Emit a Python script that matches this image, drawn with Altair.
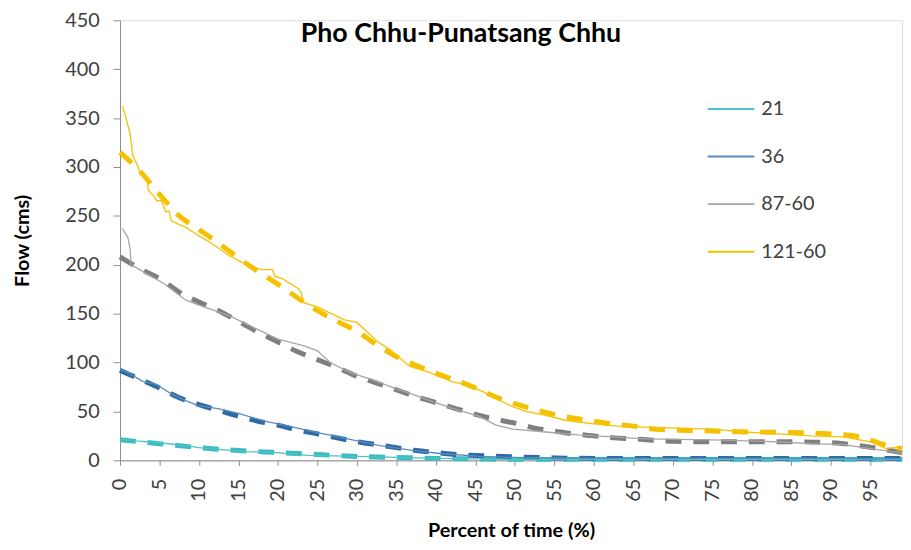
import altair as alt
import pandas as pd

series_names = ["21", "36", "87-60", "121-60"]
line_colors = ["#4cc3c9", "#5a8cbc", "#a6a6a6", "#f5c200"]
fit_colors = ["#3cbcc0", "#2f6aa6", "#7f7f7f", "#f4c000"]

x_ticks = list(range(0, 100, 5))
y_ticks = list(range(0, 451, 50))

# observed flow-duration curves (thin solid lines)
pct_21 = [0, 2, 5, 8.3, 10, 15.8, 20, 23.7, 30, 35, 40, 45, 50, 60, 70, 80, 90, 99]
flow_21 = [22, 20, 18, 15, 13, 9, 8, 5, 4, 3, 2, 1.5, 1, 1, 1, 1, 1, 1]

pct_36 = [0, 1, 2.8, 4.5, 6.5, 8.3, 9.9, 12.4, 15, 18.3, 20.8, 24.6, 28.8, 32.9, 37.2, 40.5,
          45.5, 49.7, 55, 60, 70, 80, 90, 95, 99]
flow_36 = [93, 90, 81, 78, 68, 61, 56, 53, 48, 40, 36, 29, 22, 15, 10, 7,
           4, 3, 2.5, 2, 2, 2, 2, 1.5, 1.5]

pct_87 = [0.3, 1.0, 1.3, 1.4, 2.5, 4, 5.7, 8.3, 9.9, 12, 14.1, 16.6, 20, 23.3, 25, 26.6, 29.1,
          31.7, 35, 37.6, 39.2, 42.2, 43.8, 45.5, 47.6, 49.7, 53.9, 58, 62.3, 66.5, 74.9,
          83.2, 87.4, 91.6, 95, 97.8, 99]
flow_87 = [237, 228, 215, 200, 195, 188, 180, 164, 159, 153, 147, 137, 124, 117, 112, 100, 90,
           83, 73, 66, 61, 53, 49, 45, 36, 32, 29, 26, 24, 22, 21,
           19, 17, 16, 12, 9, 8]

pct_121 = [0.3, 0.6, 1.3, 1.6, 2.3, 2.6, 3.4, 3.6, 4.3, 4.7, 5.2, 5.8, 6.2, 6.5, 7.5, 8.4, 9.9,
           11.6, 13.7, 15.3, 17.9, 19.3, 19.6, 20.5, 22.5, 22.9, 23.3, 25, 28.3, 30, 32.5, 34.2,
           36.7, 39.2, 42.2, 43.8, 46, 47.6, 49.7, 51.4, 53.9, 56.4, 60.2, 63, 66.5, 74.9, 79,
           83.2, 87.4, 91.6, 95, 97, 99]
flow_121 = [362, 355, 333, 312, 300, 292, 288, 276, 270, 265, 266, 254, 255, 245, 241, 238, 230,
            222, 210, 203, 195, 195, 188, 186, 176, 172, 161, 157, 144, 141, 122, 113,
            96, 90, 80, 78, 70, 63, 55, 50, 46, 41, 37, 35, 34, 32, 29,
            27, 25, 24, 19, 12, 14]

# fitted trend curves (thick dashed lines)
fit_pct_21 = [0, 5, 10, 15, 20, 25, 30, 35, 40, 45, 50, 60, 70, 80, 90, 99]
fit_flow_21 = [21, 17, 13, 10, 8, 6, 4, 3, 2, 1.5, 1, 1, 1, 1, 1, 1]

fit_pct_36 = [0, 2.5, 5, 7.5, 10, 12.5, 15, 17.5, 20, 22.5, 25, 27.5, 30, 32.5, 35, 37.5, 40,
              42.5, 45, 50, 55, 60, 70, 80, 90, 95, 99]
fit_flow_36 = [92, 83, 74, 64, 57, 51, 45, 40, 36, 31, 27, 23, 19, 16, 13, 10, 8,
               6, 5, 3.5, 2.5, 2, 2, 2, 2, 2, 2]

fit_pct_87 = [0, 2.5, 5, 7.5, 10, 12.5, 15, 17.5, 20, 22.5, 25, 27.5, 30, 32.5, 35, 37.5, 40,
              42.5, 45, 47.5, 50, 52.5, 55, 57.5, 60, 62.5, 65, 67.5, 70, 75, 80, 85, 90,
              93.7, 97.5, 99]
fit_flow_87 = [208, 196, 186, 172, 162, 153, 142, 131, 121, 111, 103, 95, 86, 79, 72, 65, 59,
               53, 47, 42, 38, 33, 30, 27, 25, 23, 22, 20.5, 19.5, 19, 19, 19, 18,
               15, 10, 8]

fit_pct_121 = [0, 2.5, 5, 7.5, 10, 12.5, 15, 17.5, 20, 22.5, 25, 27.5, 30, 32.5, 35, 37.5, 40,
               42.5, 45, 47.5, 50, 52.5, 55, 57.5, 60, 62.5, 65, 67.5, 70, 75, 80, 85, 90,
               93.7, 96, 98, 99]
fit_flow_121 = [315, 296, 272, 250, 236, 222, 207, 193, 180, 166, 153, 142, 132, 118, 106, 97, 89,
                82, 74, 65, 58, 52, 47, 43, 40, 37, 35, 32, 31, 30, 29, 28.5, 27,
                24, 18, 13, 12]

obs = [(pct_21, flow_21), (pct_36, flow_36), (pct_87, flow_87), (pct_121, flow_121)]
fits = [(fit_pct_21, fit_flow_21), (fit_pct_36, fit_flow_36),
        (fit_pct_87, fit_flow_87), (fit_pct_121, fit_flow_121)]

rows = []
for name, (xs, ys) in zip(series_names, obs):
    for xv, yv in zip(xs, ys):
        rows.append({"series": name, "pct": xv, "flow": yv})
df_obs = pd.DataFrame(rows)

rows = []
for name, (xs, ys) in zip(series_names, fits):
    for xv, yv in zip(xs, ys):
        rows.append({"series": name, "pct": xv, "flow": yv})
df_fit = pd.DataFrame(rows)

label_font = "Lato"
axis_color = "#8c8c8c"
text_color = "#404040"

x_enc = alt.X(
    "pct:Q",
    scale=alt.Scale(domain=[0, 99], nice=False, zero=False),
    axis=alt.Axis(
        values=x_ticks, title="Percent of time (%)", labelAngle=-90, grid=False,
        labelFont=label_font, labelFontSize=20, labelColor=text_color,
        labelPadding=13, tickSize=5, tickColor=axis_color, domainColor=axis_color,
        titleFont=label_font, titleFontSize=20, titleFontWeight="bold",
        titleColor="#000000", titlePadding=20, labelFlush=False, labelOverlap=False,
    ),
)
y_enc = alt.Y(
    "flow:Q",
    scale=alt.Scale(domain=[0, 450], nice=False),
    axis=alt.Axis(
        values=y_ticks, title="Flow (cms)", grid=False,
        labelFont=label_font, labelFontSize=20, labelColor=text_color,
        labelPadding=14, tickSize=7, tickColor=axis_color, domainColor=axis_color,
        titleFont=label_font, titleFontSize=20, titleFontWeight="bold",
        titleColor="#000000", titlePadding=33,
    ),
)

fit_layer = alt.Chart(df_fit).mark_line(
    strokeWidth=5, strokeDash=[16, 12], strokeCap="butt", interpolate="monotone"
).encode(
    x=x_enc,
    y=y_enc,
    color=alt.Color("series:N", scale=alt.Scale(domain=series_names, range=fit_colors),
                    legend=None),
)

obs_layer = alt.Chart(df_obs).mark_line(strokeWidth=1.3).encode(
    x=x_enc,
    y=y_enc,
    color=alt.Color(
        "series:N",
        scale=alt.Scale(domain=series_names, range=line_colors),
        legend=alt.Legend(
            title=None, orient="none", legendX=592, legendY=65,
            symbolType="stroke", symbolSize=2209, symbolStrokeWidth=2,
            labelFont=label_font, labelFontSize=20, labelColor=text_color,
            labelOffset=6, rowPadding=13,
        ),
    ),
)

title_df = pd.DataFrame({"t": ["Pho Chhu-Punatsang Chhu"]})
title_layer = alt.Chart(title_df).mark_text(
    font=label_font, fontSize=27, fontWeight="bold", color="#000000",
    align="center", baseline="alphabetic",
).encode(text="t:N", x=alt.value(344), y=alt.value(22))

chart = alt.layer(fit_layer, obs_layer, title_layer).resolve_scale(
    color="independent"
).properties(
    width=789, height=444,
    autosize=alt.AutoSizeParams(type="none"),
    padding={"left": 113, "top": 10, "right": 1, "bottom": 80},
).configure_view(stroke=None).configure(background="white")

chart.save("out.html", embed_options={"renderer": "svg", "actions": False})
